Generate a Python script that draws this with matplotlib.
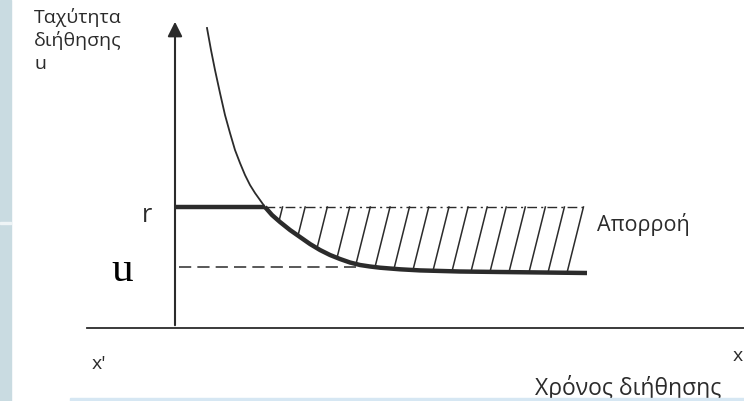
import numpy as np
import matplotlib.pyplot as plt
from matplotlib.patches import Rectangle

# infiltration rate curve (time, rate) in drawing units, origin at the axes corner
time = [32, 36, 40, 45, 50, 55, 60, 65, 70, 75, 80, 85, 90, 97, 105, 115, 125,
        135, 145, 155, 165, 175, 185, 195, 205, 225, 245, 285, 325, 412]
rate = [300, 278, 258, 235, 213, 195, 178, 165, 153, 143, 135, 128, 121, 113,
        106, 98, 91, 84, 78, 73, 69, 65.5, 63, 61.5, 60.3, 58.7, 57.6, 56.5, 56, 55]
rain_rate = 121      # r
final_rate = 61      # u (dashed level)
hatch_bottoms = [104, 123, 142, 162, 181, 200, 219, 238, 258, 277, 296, 315, 334,
                 354, 373, 392]

ink = '#2b2b2b'
plt.rcParams['font.family'] = ['Open Sans', 'DejaVu Sans']

fig = plt.figure(figsize=(7.44, 4.01), dpi=100)
ax = fig.add_axes([0, 0, 1, 1])
ax.set_xlim(-175, 569)
ax.set_ylim(-73, 328)
ax.axis('off')

t = np.array(time, dtype=float)
f = np.array(rate, dtype=float)

# axes
ax.plot([-88, 569], [0, 0], color=ink, lw=1.3)
ax.annotate('', xy=(0, 309), xytext=(0, 0),
            arrowprops=dict(arrowstyle='-|>', color=ink, lw=1.5, mutation_scale=22))

# rain intensity r
ax.plot([0, 90], [rain_rate, rain_rate], color=ink, lw=3.2, solid_capstyle='butt')

# curve: thin above r, thick below
above = f >= rain_rate
below = f <= rain_rate
ax.plot(t[above], f[above], color=ink, lw=1.3)
ax.plot(t[below], f[below], color=ink, lw=3.2, solid_capstyle='butt',
        solid_joinstyle='round')

# u dashed level
t_u = np.interp(final_rate + 3, f[::-1], t[::-1])
ax.plot([4, t_u], [final_rate, final_rate], color=ink, lw=1.1, dashes=(8, 4))

# runoff hatching
tops = []
for b in hatch_bottoms:
    fb = np.interp(b, t, f)
    top = b + 0.25 * (rain_rate - fb)
    tops.append(top)
    ax.plot([b, top], [fb, rain_rate], color=ink, lw=1.1)
ax.plot([90, max(tops)], [rain_rate, rain_rate], color=ink, lw=1.0,
        dashes=(7, 3, 1.5, 3))

# labels
ax.text(-141, 320, 'Ταχύτητα\nδιήθησης\nu', fontsize=14, color=ink, va='top',
        ha='left', linespacing=1.3)
ax.text(-33, 112, 'r', fontsize=18, color=ink, ha='left', va='center')
ax.text(-64, 57, 'u', fontsize=31, color='black', family='Liberation Serif',
        ha='left', va='center')
ax.text(422, 103, 'Απορροή', fontsize=15.5, color=ink, ha='left', va='center')
ax.text(-83, -36, "x'", fontsize=14, color=ink, ha='left', va='center')
ax.text(558, -28, 'x', fontsize=14, color=ink, ha='left', va='center')
ax.text(360, -67, 'Χρόνος διήθησης', fontsize=16.5, color=ink, ha='left',
        va='baseline')

# scan page borders
fig.add_artist(Rectangle((0, 0), 11 / 744, 1, transform=fig.transFigure,
                         color='#c9dbe1', zorder=10))
fig.add_artist(Rectangle((0, 1 - 224 / 401), 11 / 744, 2 / 401,
                         transform=fig.transFigure, color='#eef4f6', zorder=11))
fig.add_artist(Rectangle((70 / 744, 0), 1, 3 / 401, transform=fig.transFigure,
                         color='#d6e7f3', zorder=10))

fig.savefig('out.png', dpi=100, facecolor='white')
